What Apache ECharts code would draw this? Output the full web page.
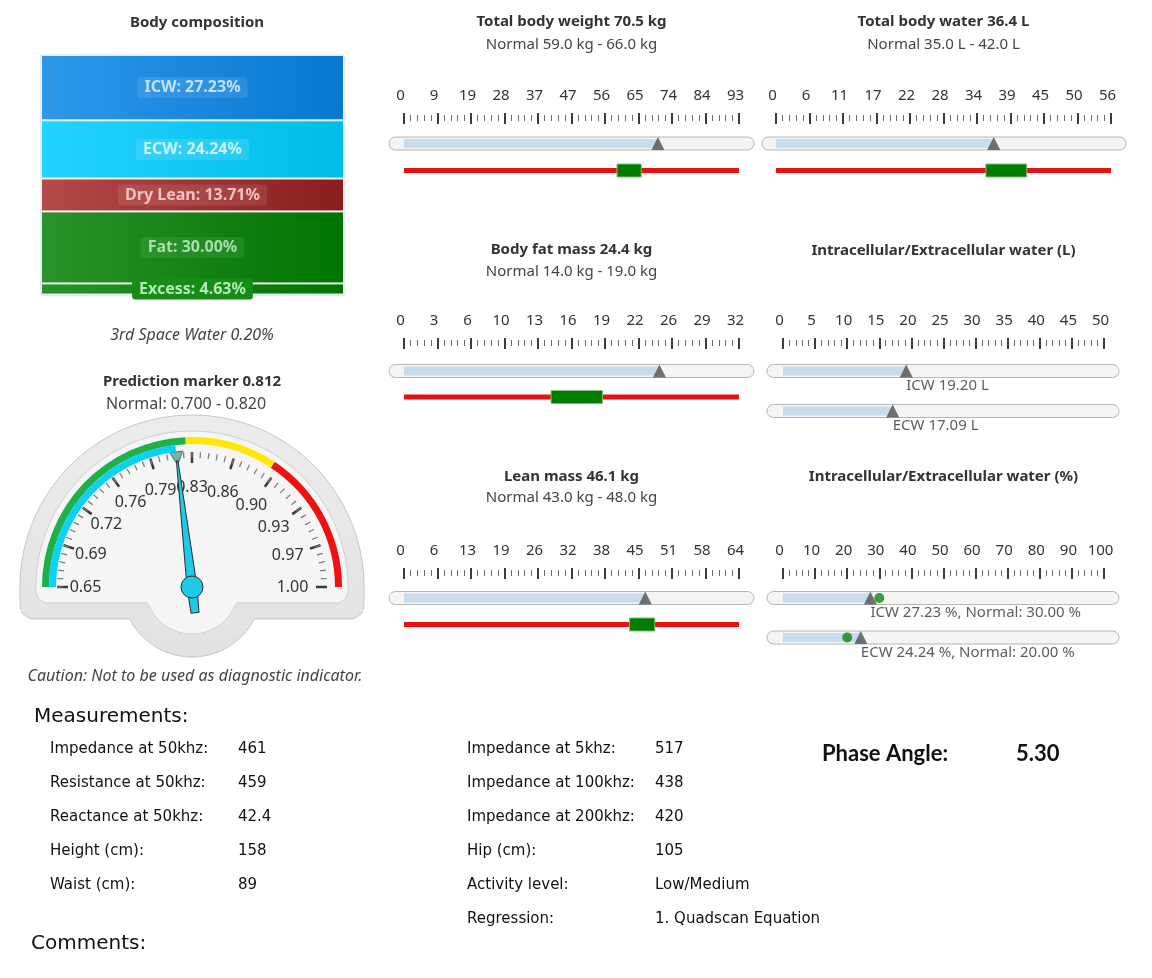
<!DOCTYPE html>
<html><head><meta charset="utf-8">
<script src="https://cdn.jsdelivr.net/npm/echarts@6/dist/echarts.min.js"></script>
<style>html,body{margin:0;padding:0;background:#fff}#c{width:1152px;height:978px}</style>
</head><body><div id="c"></div>
<script>
// ---------------- data ----------------
const compNames = ['ICW', 'ECW', 'Dry Lean', 'Fat', 'Excess'];
const compValues = [27.23, 24.24, 13.71, 30.00, 4.63];
const thirdSpaceWater = 0.20;

const predictionMarker = 0.812;
const predictionNormal = [0.700, 0.820];
const gaugeRange = [0.65, 1.00];
const gaugeBandEnds = [0.82, 0.89, 1.00];           // green, yellow, red
const gaugeBandColors = ['#1db04b', '#ffe800', '#ee1111'];

const weightValue = 70.5, weightNormal = [59.0, 66.0], weightMax = 93;
const waterValue = 36.4, waterNormal = [35.0, 42.0], waterMax = 56;
const fatValue = 24.4, fatNormal = [14.0, 19.0], fatMax = 32;
const leanValue = 46.1, leanNormal = [43.0, 48.0], leanMax = 64;
const waterLNames = ['ICW', 'ECW'];
const waterLValues = [19.20, 17.09];
const waterLMax = 50;
const waterPctNames = ['ICW', 'ECW'];
const waterPctValues = [27.23, 24.24];
const waterPctNormal = [30.00, 20.00];
const waterPctMax = 100;

const measLabels1 = ['Impedance at 50khz:', 'Resistance at 50khz:', 'Reactance at 50khz:', 'Height (cm):', 'Waist (cm):'];
const measValues1 = ['461', '459', '42.4', '158', '89'];
const measLabels2 = ['Impedance at 5khz:', 'Impedance at 100khz:', 'Impedance at 200khz:', 'Hip (cm):', 'Activity level:', 'Regression:'];
const measValues2 = ['517', '438', '420', '105', 'Low/Medium', '1. Quadscan Equation'];
const phaseAngle = 5.30;

// ---------------- build ----------------
const FONT = '"Noto Sans", "Open Sans", sans-serif';
const grids = [], xAxes = [], yAxes = [], series = [], graphics = [];

function addText(text, x, y, o) {
  graphics.push({type: 'text', z: 100, silent: true, style: Object.assign({
    text: text, x: x, y: y, fill: '#333', fontSize: 15, fontFamily: FONT,
    align: 'center', verticalAlign: 'middle'
  }, o || {})});
}

// ---- body composition (stacked bar) ----
grids.push({left: 41, top: 55, width: 303, height: 240, show: true, borderColor: '#c8d8e6', borderWidth: 1});
xAxes.push({gridIndex: 0, type: 'category', data: ['Body'], show: false});
yAxes.push({gridIndex: 0, type: 'value', min: 0, max: 100, inverse: true, show: false});
const compStyle = [
  {c0: '#2e98ea', c1: '#0777d0', t: '#bfe1ff', bg: 'rgba(255,255,255,0.10)'},
  {c0: '#22d4ff', c1: '#00bde6', t: '#c6f3ff', bg: 'rgba(255,255,255,0.12)'},
  {c0: '#b54848', c1: '#8a1d1d', t: '#f2c2c2', bg: 'rgba(255,255,255,0.10)'},
  {c0: '#2a922a', c1: '#007400', t: '#a8dea8', bg: 'rgba(255,255,255,0.08)'},
  {c0: '#2a922a', c1: '#007400', t: '#b4eab4', bg: '#178d17'}
];
compNames.forEach(function (n, i) {
  const s = compStyle[i];
  series.push({
    type: 'bar', name: n, xAxisIndex: 0, yAxisIndex: 0, stack: 'comp', barWidth: '100%',
    data: [compValues[i]], silent: true, z: 3,
    itemStyle: {
      color: new echarts.graphic.LinearGradient(0, 0, 1, 0, [{offset: 0, color: s.c0}, {offset: 1, color: s.c1}]),
      borderColor: '#eef1f4', borderWidth: 1
    },
    label: {
      show: true, position: 'inside', formatter: n + ': ' + compValues[i].toFixed(2) + '%',
      color: s.t, fontWeight: 'bold', fontSize: 16, fontFamily: FONT,
      backgroundColor: s.bg, padding: [3, 7, 2, 7], borderRadius: 3
    }
  });
});
addText('Body composition', 197, 23, {fontWeight: 'bold'});
addText('3rd Space Water ' + thirdSpaceWater.toFixed(2) + '%', 192, 335, {fontStyle: 'italic', fill: '#444', fontSize: 16});

// ---- prediction marker gauge ----
const GC = [192, 587];
function domePoints(cx, cy, R, B, c, rb) {
  const pts = [];
  for (let k = 0; k <= 90; k++) { const a = Math.PI * (1 - k / 90); pts.push([cx + R * Math.cos(a), cy - R * Math.sin(a)]); }
  for (let k = 0; k <= 10; k++) { const f = k / 10 * Math.PI / 2; pts.push([cx + R - c + c * Math.cos(f), B - c + c * Math.sin(f)]); }
  const f0 = Math.asin((B - cy) / rb);
  for (let k = 0; k <= 40; k++) { const f = f0 + (Math.PI - 2 * f0) * k / 40; pts.push([cx + rb * Math.cos(f), cy + rb * Math.sin(f)]); }
  for (let k = 0; k <= 10; k++) { const f = Math.PI / 2 + k / 10 * Math.PI / 2; pts.push([cx - R + c + c * Math.cos(f), B - c + c * Math.sin(f)]); }
  return pts;
}
graphics.push({type: 'polygon', z: 1, silent: true, shape: {points: domePoints(GC[0], GC[1], 172, GC[1] + 32, 14, 70)},
  style: {fill: new echarts.graphic.LinearGradient(0, 0, 0, 1, [{offset: 0, color: '#ececec'}, {offset: 1, color: '#e2e2e2'}]), stroke: '#c6c6c6', lineWidth: 1}});
graphics.push({type: 'polygon', z: 1, silent: true, shape: {points: domePoints(GC[0], GC[1], 156, GC[1] + 16, 12, 47)},
  style: {fill: '#f5f5f5', stroke: '#d0d0d0', lineWidth: 1}});

const gMin = gaugeRange[0], gMax = gaugeRange[1];
const bandStops = gaugeBandEnds.map(function (b, i) { return [(b - gMin) / (gMax - gMin), gaugeBandColors[i]]; });
series.push({
  type: 'gauge', center: GC, radius: 150, startAngle: 180, endAngle: 0, min: gMin, max: gMax, splitNumber: 10,
  axisLine: {show: true, lineStyle: {width: 7, color: bandStops}},
  progress: {show: false}, pointer: {show: false}, anchor: {show: false},
  axisTick: {show: false}, splitLine: {show: false}, axisLabel: {show: false},
  title: {show: false}, detail: {show: false}, data: [{value: predictionMarker}], z: 3, silent: true, animation: false
});

// label placement (rich padding) so the labels sit inside the ticks
const GR = 143, GAW = 7, GSPL = 11, GLD = -10, GFS = 16, GH = 16;
const mctx = document.createElement('canvas').getContext('2d');
mctx.font = GFS + 'px "Noto Sans"';
function gaugeLabelText(v) { const x = Math.round(v * 1000) / 1000; return (Math.round(x * 100 + 1e-6) / 100).toFixed(2); }
const gaugeRich = {};
for (let i = 0; i <= 10; i++) {
  const v = gMin + (gMax - gMin) * i / 10;
  const w = mctx.measureText(gaugeLabelText(v)).width;
  const th = Math.PI * (1 - i / 10);
  const ux = Math.cos(th), uy = -Math.sin(th);
  const R = GR - GSPL - GLD;
  const Rc = 104.5 - 3 * ux - 4 * Math.pow(uy, 8);
  const Ax = GC[0] + ux * R, Ay = GC[1] + uy * R;
  const Dx = GC[0] + ux * Rc, Dy = GC[1] + uy * Rc;
  const al = ux < -0.4 ? 'left' : (ux > 0.4 ? 'right' : 'center');
  const va = uy < -0.8 ? 'top' : (uy > 0.8 ? 'bottom' : 'middle');
  let pl = 0, pr = 0, pt = 0, pb = 0;
  if (al === 'left') pl = Math.max(0, Dx - Ax - w / 2);
  else if (al === 'right') pr = Math.max(0, Ax - Dx - w / 2);
  else { const d = Dx - Ax; if (d > 0) pl = 2 * d; else pr = -2 * d; }
  if (va === 'top') pt = Math.max(0, Dy - Ay - GH / 2);
  else if (va === 'bottom') pb = Math.max(0, Ay - Dy - GH / 2);
  else { const d = Dy - Ay; if (d > 0) pt = 2 * d; else pb = -2 * d; }
  gaugeRich['g' + i] = {fontSize: GFS, fontFamily: FONT, color: '#333', padding: [pt, pr, pb, pl]};
}
series.push({
  type: 'gauge', center: GC, radius: GR, startAngle: 180, endAngle: 0, min: gMin, max: gMax, splitNumber: 10,
  axisLine: {show: true, lineStyle: {width: GAW, color: [[1, 'rgba(0,0,0,0)']]}},
  progress: {show: true, overlap: true, width: 7, itemStyle: {color: '#0bd2f2'}},
  pointer: {show: true, icon: 'path://M0,0 L10,0 L5,10 Z', length: 13, width: 13, offsetCenter: [0, -123],
    itemStyle: {color: '#73b4aa', borderColor: '#4f7c75', borderWidth: 1}},
  anchor: {show: false},
  splitLine: {show: true, distance: 1, length: GSPL, lineStyle: {color: '#383838', width: 2.5}},
  axisTick: {show: true, distance: 1, length: 6, splitNumber: 5, lineStyle: {color: '#7a7a7a', width: 1.2}},
  axisLabel: {show: true, distance: GLD, fontSize: GFS, fontFamily: FONT, color: '#333', rich: gaugeRich,
    formatter: function (v) { const i = Math.round((v - gMin) / (gMax - gMin) * 10); return '{g' + i + '|' + gaugeLabelText(v) + '}'; }},
  title: {show: false}, detail: {show: false}, data: [{value: predictionMarker}], z: 4, silent: true, animation: false
});
series.push({
  type: 'gauge', center: GC, radius: GR, startAngle: 180, endAngle: 0, min: gMin, max: gMax,
  axisLine: {show: false}, progress: {show: false}, splitLine: {show: false}, axisTick: {show: false}, axisLabel: {show: false},
  pointer: {show: true, icon: 'path://M4.2,0 L5.8,0 L10,127 L9,153 L1,153 L0,127 Z', length: 153, width: 10, offsetCenter: [0, 26],
    itemStyle: {color: '#1fc9ea', borderColor: '#2d2d2d', borderWidth: 1}},
  anchor: {show: true, showAbove: true, size: 22, itemStyle: {color: '#1fc9ea', borderColor: '#2d2d2d', borderWidth: 1}},
  title: {show: false}, detail: {show: false}, data: [{value: predictionMarker}], z: 5, silent: true, animation: false
});
addText('Prediction marker ' + predictionMarker.toFixed(3), 192, 382, {fontWeight: 'bold'});
addText('Normal: ' + predictionNormal[0].toFixed(3) + ' - ' + predictionNormal[1].toFixed(3), 186, 404, {fill: '#444', fontSize: 16});
addText('Caution: Not to be used as diagnostic indicator.', 195, 676, {fontStyle: 'italic', fontSize: 16, fill: '#444'});

// ---- linear gauges ----
function axisBlock(left, width, tickTop, max) {
  const gi = grids.length;
  grids.push({left: left, width: width, top: tickTop, height: 1});
  xAxes.push({gridIndex: gi, type: 'value', position: 'top', min: 0, max: max, interval: max / 10,
    axisLine: {show: false}, splitLine: {show: false},
    axisTick: {show: true, inside: true, length: 11, lineStyle: {color: '#3c3c3c', width: 2}},
    axisLabel: {show: true, margin: 9, fontSize: 15, fontFamily: FONT, color: '#333', padding: [0, 7, 0, 0],
      formatter: function (v) { return String(Math.round(v)); }}});
  xAxes.push({gridIndex: gi, type: 'value', position: 'top', offset: -3, min: 0, max: max, interval: max / 10,
    axisLine: {show: false}, splitLine: {show: false}, axisLabel: {show: false},
    axisTick: {show: false, inside: true},
    minorTick: {show: true, splitNumber: 5, length: 6, lineStyle: {color: '#6a6a6a', width: 1}}});
  yAxes.push({gridIndex: gi, type: 'value', show: false});
}
function rowGrid(left, width, cy, max) {
  const gi = grids.length;
  grids.push({left: left, width: width, top: cy - 10, height: 20});
  xAxes.push({gridIndex: gi, type: 'value', min: 0, max: max, show: false});
  yAxes.push({gridIndex: gi, type: 'category', data: ['r'], show: false});
  return {xAxisIndex: xAxes.length - 1, yAxisIndex: yAxes.length - 1};
}
function trackRow(left, width, cy, max, value, labelText, normalDot, padL) {
  padL = padL || 15;
  graphics.push({type: 'rect', z: 1, silent: true, shape: {x: left - padL, y: cy - 6.5, width: width + padL + 15, height: 13, r: 6.5},
    style: {fill: '#f4f4f4', stroke: '#b6b6b6', lineWidth: 1}});
  const a = rowGrid(left, width, cy, max);
  series.push(Object.assign({type: 'bar', data: [value], barWidth: 9, itemStyle: {color: '#c5dcec'}, silent: true, z: 3}, a));
  series.push(Object.assign({type: 'scatter', data: [[value, 'r']], symbol: 'triangle', symbolSize: [13, 13],
    itemStyle: {color: '#505050'}, silent: true, z: 5,
    label: labelText ? {show: true, position: 'bottom', distance: 1, align: 'left', formatter: labelText,
      fontSize: 15, fontFamily: FONT, color: '#333'} : {show: false}}, a));
  if (normalDot != null) {
    series.push(Object.assign({type: 'scatter', data: [[normalDot, 'r']], symbol: 'circle', symbolSize: 10,
      itemStyle: {color: '#0a870a'}, silent: true, z: 6}, a));
  }
}
let rangeCount = 0;
function rangeRow(left, width, cy, max, lo, hi) {
  const a = rowGrid(left, width, cy, max);
  const st = 'normal' + (rangeCount++);
  series.push(Object.assign({type: 'line', data: [[0, 'r'], [max, 'r']], symbol: 'none', silent: true,
    lineStyle: {color: '#e31313', width: 5}, z: 2}, a));
  series.push(Object.assign({type: 'bar', stack: st, data: [lo], barWidth: 14, itemStyle: {color: 'rgba(0,0,0,0)'}, silent: true, z: 3}, a));
  series.push(Object.assign({type: 'bar', stack: st, data: [hi - lo], barWidth: 14,
    itemStyle: {color: '#007c00', borderColor: '#79bd79', borderWidth: 1}, silent: true, z: 3}, a));
}

const LX = 404, LW = 335, RX = 776, RW = 335, RX2 = 783, RW2 = 321;
const LC = LX + LW / 2, RC = 943.5;

// total body weight
addText('Total body weight ' + weightValue.toFixed(1) + ' kg', LC, 22, {fontWeight: 'bold'});
addText('Normal ' + weightNormal[0].toFixed(1) + ' kg - ' + weightNormal[1].toFixed(1) + ' kg', LC, 45, {fill: '#444'});
axisBlock(LX, LW, 112, weightMax);
trackRow(LX, LW, 143.5, weightMax, weightValue);
rangeRow(LX, LW, 170.5, weightMax, weightNormal[0], weightNormal[1]);

// total body water
addText('Total body water ' + waterValue.toFixed(1) + ' L', RC, 22, {fontWeight: 'bold'});
addText('Normal ' + waterNormal[0].toFixed(1) + ' L - ' + waterNormal[1].toFixed(1) + ' L', RC, 45, {fill: '#444'});
axisBlock(RX, RW, 112, waterMax);
trackRow(RX, RW, 143.5, waterMax, waterValue, null, null, 14);
rangeRow(RX, RW, 170.5, waterMax, waterNormal[0], waterNormal[1]);

// body fat mass
addText('Body fat mass ' + fatValue.toFixed(1) + ' kg', LC, 250, {fontWeight: 'bold'});
addText('Normal ' + fatNormal[0].toFixed(1) + ' kg - ' + fatNormal[1].toFixed(1) + ' kg', LC, 272, {fill: '#444'});
axisBlock(LX, LW, 337, fatMax);
trackRow(LX, LW, 371, fatMax, fatValue);
rangeRow(LX, LW, 397, fatMax, fatNormal[0], fatNormal[1]);

// ICW / ECW litres
addText('Intracellular/Extracellular water (L)', RC, 251, {fontWeight: 'bold'});
axisBlock(RX2, RW2, 337, waterLMax);
trackRow(RX2, RW2, 371, waterLMax, waterLValues[0], waterLNames[0] + ' ' + waterLValues[0].toFixed(2) + ' L', null, 16);
trackRow(RX2, RW2, 411, waterLMax, waterLValues[1], waterLNames[1] + ' ' + waterLValues[1].toFixed(2) + ' L', null, 16);

// lean mass
addText('Lean mass ' + leanValue.toFixed(1) + ' kg', LC, 477, {fontWeight: 'bold'});
addText('Normal ' + leanNormal[0].toFixed(1) + ' kg - ' + leanNormal[1].toFixed(1) + ' kg', LC, 498, {fill: '#444'});
axisBlock(LX, LW, 567, leanMax);
trackRow(LX, LW, 598, leanMax, leanValue);
rangeRow(LX, LW, 624.5, leanMax, leanNormal[0], leanNormal[1]);

// ICW / ECW percent
addText('Intracellular/Extracellular water (%)', RC, 477, {fontWeight: 'bold'});
axisBlock(RX2, RW2, 567, waterPctMax);
trackRow(RX2, RW2, 598, waterPctMax, waterPctValues[0],
  waterPctNames[0] + ' ' + waterPctValues[0].toFixed(2) + ' %, Normal: ' + waterPctNormal[0].toFixed(2) + ' %', waterPctNormal[0], 16);
trackRow(RX2, RW2, 637.5, waterPctMax, waterPctValues[1],
  waterPctNames[1] + ' ' + waterPctValues[1].toFixed(2) + ' %, Normal: ' + waterPctNormal[1].toFixed(2) + ' %', waterPctNormal[1], 16);

// ---- measurements ----
const TF = '"DejaVu Sans", Verdana, sans-serif';
addText('Measurements:', 34, 717, {align: 'left', fontFamily: TF, fontSize: 20, fill: '#111'});
const rowY = [749, 783, 817, 851, 885, 919];
measLabels1.forEach(function (t, i) {
  addText(t, 50, rowY[i], {align: 'left', fontFamily: TF, fontSize: 15, fill: '#111'});
  addText(measValues1[i], 238, rowY[i], {align: 'left', fontFamily: TF, fontSize: 15, fill: '#111'});
});
measLabels2.forEach(function (t, i) {
  addText(t, 467, rowY[i], {align: 'left', fontFamily: TF, fontSize: 15, fill: '#111'});
  addText(measValues2[i], 655, rowY[i], {align: 'left', fontFamily: TF, fontSize: 15, fill: '#111'});
});
addText('Phase Angle:', 822, 754, {align: 'left', fontFamily: 'Lato, "Noto Sans", sans-serif', fontWeight: 'bold', fontSize: 22, fill: '#111'});
addText(phaseAngle.toFixed(2), 1016, 754, {align: 'left', fontFamily: 'Lato, "Noto Sans", sans-serif', fontWeight: 'bold', fontSize: 22, fill: '#111'});
addText('Comments:', 31, 944, {align: 'left', fontFamily: TF, fontSize: 20, fill: '#111'});

const chart = echarts.init(document.getElementById('c'), null, {renderer: 'canvas'});
chart.setOption({
  animation: false,
  backgroundColor: '#ffffff',
  grid: grids, xAxis: xAxes, yAxis: yAxes, series: series,
  graphic: {elements: graphics}
});
</script></body></html>
